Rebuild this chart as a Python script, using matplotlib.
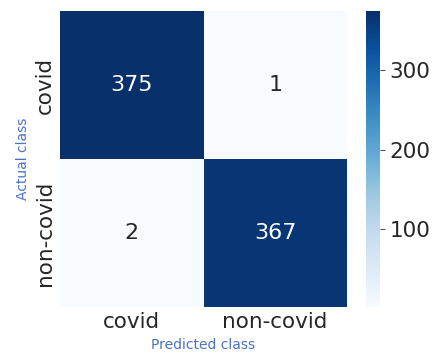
import numpy as np
import matplotlib
matplotlib.use("Agg")
import matplotlib.pyplot as plt
import seaborn as sns

classes = ["covid", "non-covid"]
row_covid = [375, 1]
row_noncovid = [2, 367]

cm = np.array([row_covid, row_noncovid])

fig = plt.figure(figsize=(4.33, 3.58), dpi=100)
ax = fig.add_axes([0.139, 0.142, 0.662, 0.827])
cax = fig.add_axes([0.845, 0.142, 0.032, 0.827])

sns.heatmap(cm, annot=True, fmt="d", cmap="Blues", ax=ax, cbar_ax=cax,
            xticklabels=classes, yticklabels=classes,
            annot_kws={"size": 16})

# dark grey text like the seaborn style
ax.tick_params(axis="both", labelsize=15.5, length=0, labelcolor="#262626")
ax.set_xlabel("Predicted class", fontsize=10, color="#4a72c4")
ax.set_ylabel("Actual class", fontsize=10, color="#4a72c4")
cax.tick_params(labelsize=15.5, labelcolor="#262626", color="#555555")
cax.set_yticks([100, 200, 300])

fig.savefig("out.png", dpi=100)
